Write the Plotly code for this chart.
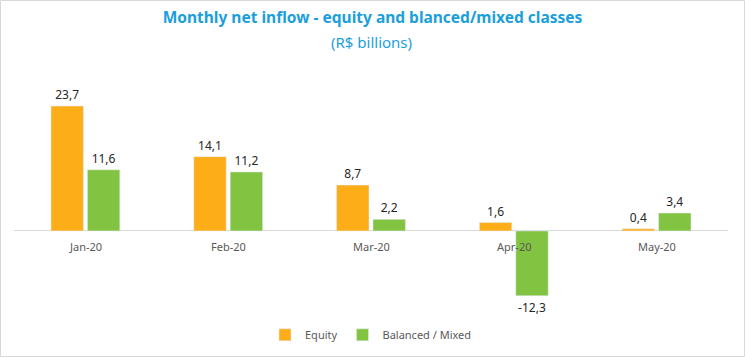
import plotly.graph_objects as go

months = ["Jan-20", "Feb-20", "Mar-20", "Apr-20", "May-20"]
equity = [23.7, 14.1, 8.7, 1.6, 0.4]
balanced = [11.6, 11.2, 2.2, -12.3, 3.4]

def fmt(v):
    return f"{v:.1f}".replace(".", ",")

W, H = 745, 357
L, R, T, B = 14, 17, 80, 47
PW, PH = W - L - R, H - T - B

fig = go.Figure()
fig.add_trace(go.Bar(
    x=months, y=equity, name="Equity", marker_color="#FDAD18",
    text=[fmt(v) for v in equity], textposition="outside",
    textfont=dict(size=12, color="#262626"), cliponaxis=False,
))
fig.add_trace(go.Bar(
    x=months, y=balanced, name="Balanced / Mixed", marker_color="#82C341",
    text=[fmt(v) for v in balanced], textposition="outside",
    textfont=dict(size=12, color="#262626"), cliponaxis=False,
))

for m in months:
    fig.add_annotation(x=m, y=0, text=m, showarrow=False, yshift=-16,
                       font=dict(size=11, color="#595959", family="Noto Sans"))

fig.add_annotation(xref="paper", yref="paper", x=0.5, y=1 + (T - 42) / PH,
                   text="(R$ billions)", showarrow=False, yanchor="middle",
                   font=dict(size=15, color="#1B9FDB", family="Noto Sans"))

fig.add_shape(type="rect", xref="paper", yref="paper",
              x0=-(L - 0.5) / PW, x1=1 + (R - 0.5) / PW,
              y0=-(B - 0.5) / PH, y1=1 + (T - 0.5) / PH,
              line=dict(color="#D9D9D9", width=1), layer="below")

fig.update_layout(
    width=W, height=H,
    margin=dict(l=L, r=R, t=T, b=B, autoexpand=False),
    paper_bgcolor="white", plot_bgcolor="white",
    font=dict(family="Noto Sans", color="#595959"),
    barmode="group", bargap=0.49, bargroupgap=0.11,
    title=dict(
        text="<b>Monthly net inflow - equity and blanced/mixed classes</b>",
        x=0.5, xanchor="center", y=1 - 18 / H, yanchor="middle",
        font=dict(size=15.5, color="#1B9FDB", family="Noto Sans"),
    ),
    xaxis=dict(showticklabels=False, showgrid=False, showline=False, ticks=""),
    yaxis=dict(range=[-15, 28.65], visible=True, showticklabels=False, showgrid=False,
               zeroline=True, zerolinecolor="#D9D9D9", zerolinewidth=1),
    legend=dict(orientation="h", x=0.5, xanchor="center", y=-0.045, yanchor="top",
                font=dict(size=11, color="#595959"), itemwidth=30),
    showlegend=True,
)

fig.write_html("out.html", config={"displayModeBar": False},
               post_script="document.body.style.margin='0';document.body.style.overflow='hidden';")
